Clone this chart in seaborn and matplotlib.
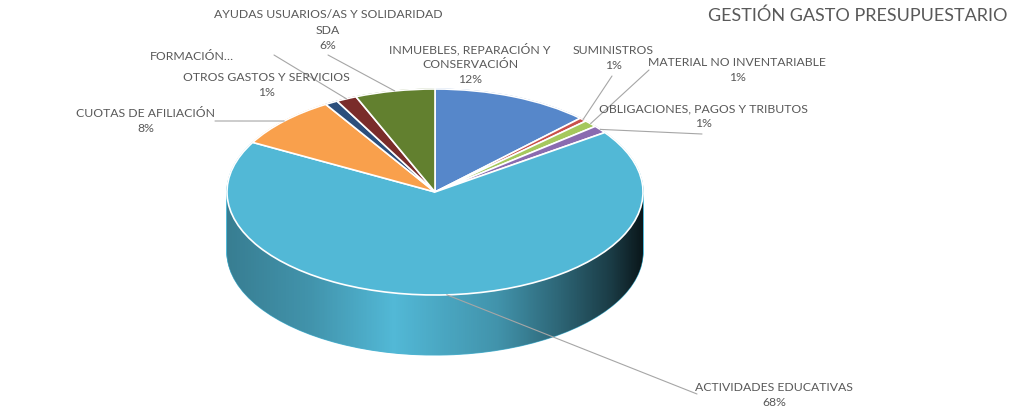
import numpy as np
import matplotlib
matplotlib.use("Agg")
import matplotlib.pyplot as plt
from matplotlib.patches import Polygon
import seaborn as sns

# Datos del gráfico (sentido horario desde las 12)
categorias = [
    "INMUEBLES, REPARACIÓN Y\nCONSERVACIÓN",
    "SUMINISTROS",
    "MATERIAL NO INVENTARIABLE",
    "OBLIGACIONES, PAGOS Y TRIBUTOS",
    "ACTIVIDADES EDUCATIVAS",
    "CUOTAS DE AFILIACIÓN",
    "OTROS GASTOS Y SERVICIOS",
    "FORMACIÓN…",
    "AYUDAS USUARIOS/AS Y SOLIDARIDAD\nSDA",
]
porcentajes = [12.3, 0.6, 1.1, 1.2, 67.8, 8.2, 1.0, 1.6, 6.2]
mostrar_pct = [True, True, True, True, True, True, True, False, True]
colores = ["#5687CA", "#C9504B", "#A5C85D", "#8A6BB0", "#52B8D6",
           "#F9A04C", "#2C4F7C", "#7A2C2A", "#62802F"]
titulo = "GESTIÓN GASTO PRESUPUESTARIO"

# Posiciones de las etiquetas (pixeles desde arriba a la izquierda)
pos_etiquetas = [(470, 64), (613, 58), (737, 70), (703, 116), (774, 395),
                 (146, 121), (266, 85), (192, 56), (328, 30)]
inicio_guia = [None, (612, 76), (649, 70), (702, 134), (697, 394),
               (215, 121), None, (274, 55), (328, 55)]

W, H = 1024, 419
cx, cy, a, b, depth = 435, 192, 208, 103, 60
TEXT = "#595959"

sns.set_theme(style="white")
plt.rcParams['font.family'] = ['Lato', 'DejaVu Sans']
paleta = sns.color_palette(colores)

fig = plt.figure(figsize=(W / 100, H / 100), dpi=100)
ax_pie = fig.add_axes([(cx - a) / W, (H - (cy + b + depth)) / H,
                       2 * a / W, (2 * b + depth) / H])
dd = depth / b

# Lateral del cilindro: capas apiladas
for k in np.linspace(dd, 0, 90):
    cuñas, _ = ax_pie.pie(porcentajes, colors=paleta, startangle=90,
                          counterclock=False, radius=1, center=(0, -k),
                          wedgeprops=dict(linewidth=0.8, zorder=1))
    for w in cuñas:
        w.set_edgecolor(w.get_facecolor())

# Sombreado horizontal del lateral
xs = np.linspace(-1, 1, 400)
alpha = np.interp(xs, [-1, -0.6, -0.2, 0.3, 0.6, 0.85, 1],
                  [0.32, 0.2, 0.0, 0.2, 0.45, 0.68, 0.88])
grad = np.zeros((1, len(xs), 4))
grad[0, :, 3] = alpha
im = ax_pie.imshow(grad, extent=(-1, 1, -1 - dd, 1), aspect="auto",
                   zorder=2, interpolation="bilinear")
t_up = np.linspace(np.pi, 0, 200)
t_dn = np.linspace(0, -np.pi, 200)
pts = np.concatenate([np.c_[np.cos(t_up), np.sin(t_up)],
                      np.c_[np.cos(t_dn), np.sin(t_dn) - dd]])
clip = Polygon(pts, closed=True, transform=ax_pie.transData)
im.set_clip_path(clip)

# Cara superior
ax_pie.pie(porcentajes, colors=paleta, startangle=90, counterclock=False,
           radius=1, center=(0, 0),
           wedgeprops=dict(linewidth=1.2, edgecolor="white", zorder=3))

ax_pie.set_aspect("auto")
ax_pie.set_xlim(-1, 1)
ax_pie.set_ylim(-1 - dd, 1)
ax_pie.axis("off")

# Capa de texto en pixeles
ax = fig.add_axes([0, 0, 1, 1])
ax.set_xlim(0, W)
ax.set_ylim(H, 0)
ax.axis("off")

total = sum(porcentajes)
acum = 0.0
for i, v in enumerate(porcentajes):
    medio = 90 - 360 * (acum + v / 2) / total
    acum += v
    th = np.deg2rad(medio)
    px = cx + a * np.cos(th)
    py = cy - b * np.sin(th)
    texto = categorias[i]
    if mostrar_pct[i]:
        texto += f"\n{round(v):.0f}%"
    ax.text(pos_etiquetas[i][0], pos_etiquetas[i][1], texto, ha="center",
            va="center", fontsize=8.8, color=TEXT, linespacing=1.45)
    if inicio_guia[i] is not None:
        sx, sy = inicio_guia[i]
        ax.plot([sx, px], [sy, py], color="#A6A6A6", lw=0.8)

ax.text(1007, 16, titulo, ha="right", va="center", fontsize=13, color=TEXT)

fig.savefig("out.png", dpi=100)
